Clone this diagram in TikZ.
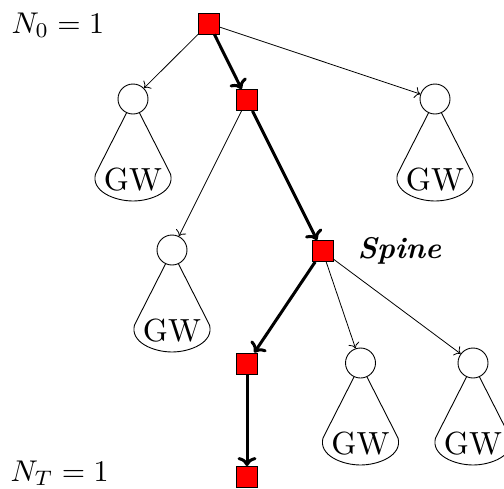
\documentclass[tikz,border=0pt]{standalone}
\usetikzlibrary{calc,arrows.meta}
\begin{document}
\begin{tikzpicture}[x=1pt,y=1pt,
  big/.style={scale=3,inner sep=0pt},
  gwtext/.style={scale=3.2,inner sep=0pt},
  sq/.style={draw=black,fill=red,line width=0.8pt,minimum size=21pt,inner sep=0pt},
  gwc/.style={draw=black,line width=0.9pt,circle,minimum size=30pt,inner sep=0pt},
  thin/.style={line width=0.8pt,-{To[scale=1.6]}},
  spine/.style={line width=3pt,-{To[scale=1.1]}},
  cone/.style={line width=0.9pt}]
\useasboundingbox (0,0) rectangle (504,-488);
\node[sq] (s0) at (209,-23.5) {};
\node[sq] (s1) at (247,-100) {};
\node[sq] (s2) at (322.5,-251) {};
\node[sq] (s3) at (247,-363.5) {};
\node[sq] (s4) at (247,-477) {};
\node[gwc] (c1) at (133,-99) {};
\node[gwc] (c2) at (435,-99) {};
\node[gwc] (c3) at (172,-250) {};
\node[gwc] (c4) at (360.5,-363) {};
\node[gwc] (c5) at (473,-363) {};
\foreach \c in {c1,c2,c3,c4,c5}{
  \draw[cone] (\c.-115) -- ($(\c.center)+(-37.5,-75)$) to[out=-105,in=180] ($(\c.center)+(0,-102)$) to[out=0,in=-75] ($(\c.center)+(37.5,-75)$) -- (\c.-65);
  \node[gwtext] (gw\c) at ($(\c.center)+(0,-81)$) {GW};
}
\draw[thin] (s0) -- (c1);
\draw[thin] (s0) -- (c2);
\draw[thin] (s1) -- (c3);
\draw[thin] (s2) -- (c4);
\draw[thin] (s2) -- (c5);
\draw[spine] (s0) -- (s1);
\draw[spine] (s1) -- (s2);
\draw[spine] (s2) -- (s3);
\draw[spine] (s3) -- (s4);
\node[big,anchor=base west] (n0) at (11,-33) {$N_0=1$};
\node[big,anchor=base west] (nt) at (10,-481) {$N_T=1$};
\node[big,anchor=base west] (sp) at (357,-258) {\textbf{\textit{Spine}}};
\end{tikzpicture}
\end{document}
